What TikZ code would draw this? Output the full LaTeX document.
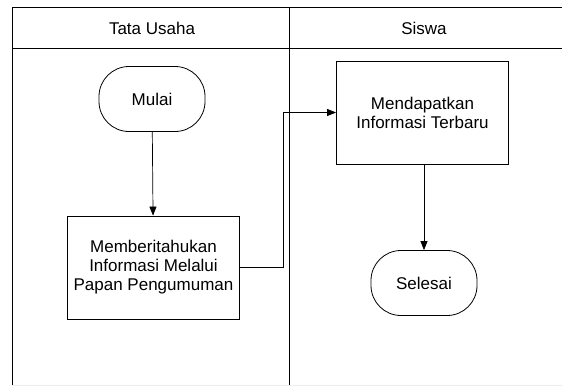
\documentclass[tikz,border=0pt]{standalone}
\usepackage{fontspec}
\setmainfont{Liberation Sans}
\usetikzlibrary{arrows.meta,positioning}

\tikzset{
  proses/.style={draw,line width=0.8pt,minimum width=172pt,minimum height=103pt,align=center,font=\fontsize{17}{19}\selectfont},
  terminal/.style={draw,line width=0.8pt,rounded corners=30pt,minimum width=106pt,minimum height=65pt,font=\fontsize{17}{19}\selectfont},
  alur/.style={line width=0.7pt,-{Triangle[length=9pt,width=7pt]}},
}

\begin{document}
\begin{tikzpicture}[x=1pt,y=-1pt]
      \useasboundingbox (0,0) rectangle (562,386);

      % lajur
      \draw[line width=0.8pt] (12,386) -- (12,7) -- (562,7);
      \draw[line width=0.7pt] (12,48) -- (562,48);
      \draw[line width=0.7pt] (289,7) -- (289,386);
      \draw[gray!15] (12,385.5) -- (562,385.5);

      \node[font=\fontsize{17}{19}\selectfont] (tu) at (152,28) {Tata Usaha};
      \node[font=\fontsize{17}{19}\selectfont] (sw) at (424,28) {Siswa};

      \node[terminal] (mulai) at (152,99) {Mulai};
      \node[proses] (umum) at (153.5,267.5) {Memberitahukan\\ Informasi Melalui\\ Papan Pengumuman};

      \node[proses] (dapat) at (422.5,112.5) {Mendapatkan\\ Informasi Terbaru};
      \node[terminal] (selesai) at (424,283) {Selesai};

      \draw[alur] (mulai) -- (umum);
      \draw[alur] (umum.east) -- ++(43,0) |- (dapat.west);
      \draw[alur] (dapat.south -| selesai.north) -- (selesai);
    \end{tikzpicture}
\end{document}
